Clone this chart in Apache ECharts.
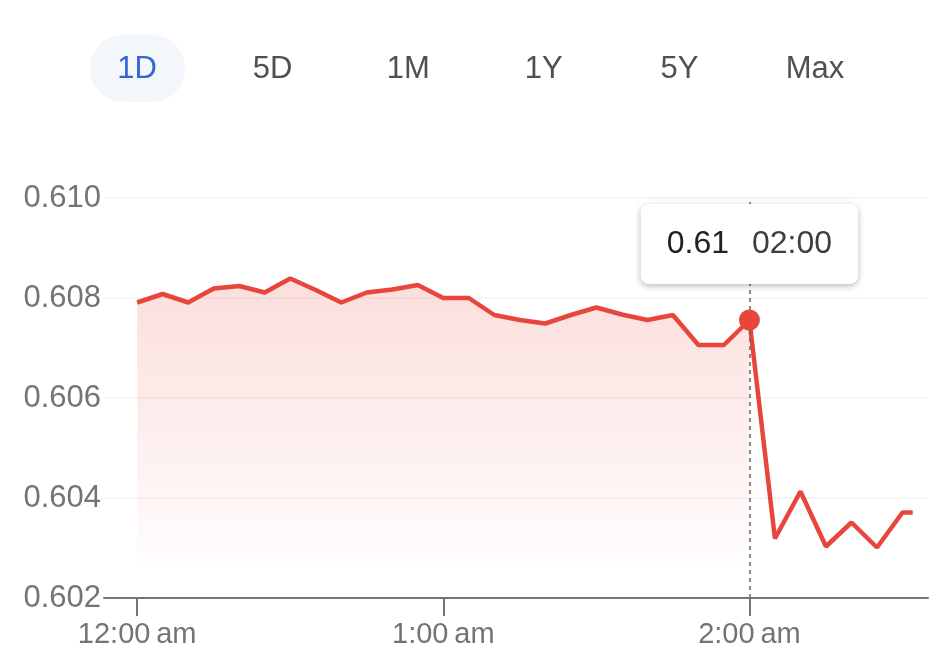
<!DOCTYPE html>
<html>
<head>
<meta charset="utf-8">
<title>1D price chart</title>
<script src="https://cdn.jsdelivr.net/npm/echarts@6/dist/echarts.min.js"></script>
<style>
  html, body { margin: 0; padding: 0; background: #fff; }
  #chart { width: 945px; height: 660px; }
</style>
</head>
<body>
<div id="chart"></div>
<script>
// minutes after midnight
const times = [0, 5, 10, 15, 20, 25, 30, 35, 40, 45, 50, 55, 60, 65, 70, 75, 80, 85, 90, 95,
  100, 105, 110, 115, 120, 125, 130, 135, 140, 145, 150, 152]
const prices = [0.60791, 0.60808, 0.60791, 0.60819, 0.60824, 0.60811, 0.60839, 0.60816, 0.60791, 0.60811,
  0.60817, 0.60826, 0.60800, 0.60800, 0.60766, 0.60756, 0.60749, 0.60766, 0.60781, 0.60767,
  0.60756, 0.60766, 0.60706, 0.60706, 0.60756, 0.60319, 0.60413, 0.60303, 0.60351, 0.60301,
  0.60371, 0.60371]
const xTickValues = [0, 60, 120]
const xTickLabels = ['12:00\u202fam', '1:00\u202fam', '2:00\u202fam']
const rangeTabs = ['1D', '5D', '1M', '1Y', '5Y', 'Max']
const hoverIndex = 24 // point under the cursor (02:00)

const RED = '#e8453c'
const FONT = '"Liberation Sans", Arial, sans-serif'

const chart = echarts.init(document.getElementById('chart'))

const points = times.map((t, i) => [t, prices[i]])
const pad = n => String(n).padStart(2, '0')
const hoverTime = times[hoverIndex]
const hoverLabel = pad(Math.floor(hoverTime / 60)) + ':' + pad(hoverTime % 60)

// range buttons on top
const tabs = rangeTabs.map((name, i) => ({
  type: 'text',
  x: 137 + i * 135.6,
  y: 69,
  style: {
    text: name,
    fontSize: 31,
    fontFamily: FONT,
    fill: i === 0 ? '#3367d6' : '#4d5156',
    align: 'center',
    verticalAlign: 'middle'
  }
}))

const option = {
  animation: false,
  backgroundColor: '#fff',
  textStyle: { fontFamily: FONT },
  graphic: [
    {
      type: 'rect',
      shape: { x: 90, y: 35, width: 95, height: 67, r: 33 },
      style: { fill: '#f3f6fb' }
    },
    ...tabs
  ],
  grid: {
    left: 104,
    right: 17,
    top: 198,
    bottom: 62
  },
  xAxis: {
    type: 'value',
    min: -6.5,
    max: 155,
    splitLine: { show: false },
    axisLine: { show: true, lineStyle: { color: '#757575', width: 2 } },
    axisTick: {
      show: true,
      customValues: xTickValues,
      length: 18,
      lineStyle: { color: '#757575', width: 2 }
    },
    axisLabel: {
      customValues: xTickValues,
      formatter: v => xTickLabels[xTickValues.indexOf(v)],
      fontSize: 29,
      color: '#70757a',
      margin: 22
    }
  },
  yAxis: {
    type: 'value',
    min: 0.602,
    max: 0.610,
    interval: 0.002,
    axisLine: { show: false },
    axisTick: { show: false },
    axisLabel: {
      formatter: v => v.toFixed(3),
      fontSize: 31,
      color: '#70757a',
      margin: 3
    },
    splitLine: { lineStyle: { color: '#f2f2f2', width: 1.5 } }
  },
  series: [
    {
      name: 'price',
      type: 'line',
      z: 2,
      data: points.slice(0, hoverIndex + 1),
      showSymbol: false,
      lineStyle: { color: RED, width: 4.5 },
      areaStyle: {
        origin: 0.60272,
        color: new echarts.graphic.LinearGradient(0, 0, 0, 1, [
          { offset: 0, color: 'rgba(232, 69, 60, 0.25)' },
          { offset: 1, color: 'rgba(232, 69, 60, 0.02)' }
        ])
      },
      markLine: {
        silent: true,
        symbol: 'none',
        label: { show: false },
        lineStyle: { type: [4, 4], color: '#666', width: 1.5 },
        data: [{ xAxis: hoverTime }]
      }
    },
    {
      name: 'price after',
      type: 'line',
      z: 3,
      data: points.slice(hoverIndex),
      showSymbol: false,
      lineStyle: { color: RED, width: 4.5 },
      markPoint: {
        silent: true,
        data: [
          {
            coord: points[hoverIndex],
            symbol: 'circle',
            symbolSize: 21,
            itemStyle: { color: RED },
            label: { show: false }
          },
          {
            coord: points[hoverIndex],
            symbol: 'circle',
            symbolSize: 1,
            itemStyle: { color: 'rgba(0,0,0,0)' },
            label: {
              show: true,
              position: 'inside',
              offset: [0, -76],
              formatter: '{v|' + prices[hoverIndex].toFixed(2) + '}{t|' + hoverLabel + '}',
              backgroundColor: '#fff',
              borderRadius: 8,
              padding: [21, 26],
              shadowBlur: 6,
              shadowOffsetY: 2,
              shadowColor: 'rgba(0, 0, 0, 0.28)',
              rich: {
                v: { fontSize: 32, color: '#202124', fontFamily: FONT, lineHeight: 38 },
                t: { fontSize: 32, color: '#3c4043', fontFamily: FONT, lineHeight: 38, padding: [0, 0, 0, 23] }
              }
            }
          }
        ]
      }
    }
  ]
}

chart.setOption(option)
window.addEventListener('resize', () => chart.resize())
</script>
</body>
</html>
